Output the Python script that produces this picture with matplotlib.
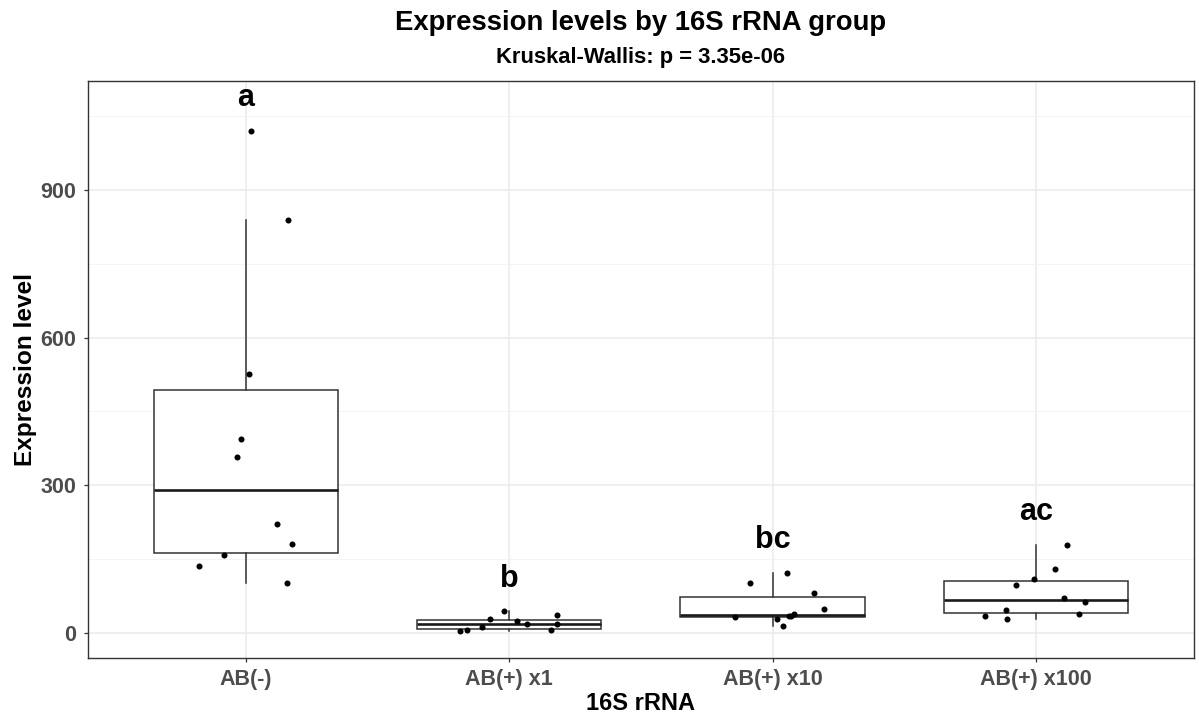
import matplotlib
matplotlib.use("Agg")
import matplotlib.pyplot as plt
import numpy as np

plt.rcParams['font.family'] = ['Liberation Sans', 'DejaVu Sans']

categories = ["AB(-)", "AB(+) x1", "AB(+) x10", "AB(+) x100"]

ab_neg = [1020, 838, 526, 393, 358, 222, 180, 157, 136, 101]
ab_x1 = [2.7, 6.1, 10.8, 27, 44, 23.7, 16.9, 5.4, 36.5, 16.9]
ab_x10 = [122, 102, 80.4, 48, 32.4, 38.5, 33.8, 27, 12.8, 34]
ab_x100 = [179, 129.7, 108.8, 96.6, 71.6, 61.5, 46, 34.5, 37.8, 27]

# horizontal jitter (category units)
jit_neg = [0.020, 0.158, 0.013, -0.018, -0.036, 0.117, 0.174, -0.083, -0.180, 0.154]
jit_x1 = [-0.186, -0.159, -0.102, -0.072, -0.020, 0.028, 0.067, 0.159, 0.182, 0.182]
jit_x10 = [0.054, -0.085, 0.156, 0.195, -0.142, 0.080, 0.062, 0.015, 0.038, 0.070]
jit_x100 = [0.119, 0.073, -0.009, -0.075, 0.105, 0.185, -0.114, -0.192, 0.163, -0.109]

letters = ["a", "b", "bc", "ac"]
title = "Expression levels by 16S rRNA group"
subtitle = "Kruskal-Wallis: p = 3.35e-06"
yticks = [0, 300, 600, 900]

groups = [ab_neg, ab_x1, ab_x10, ab_x100]
jitters = [jit_neg, jit_x1, jit_x10, jit_x100]

fig = plt.figure(figsize=(11.99, 7.19), dpi=100)
ax = fig.add_axes([0.0734, 0.0848, 0.9224, 0.8030])

pos = np.arange(1, len(categories) + 1)
line_col = "#333333"
ax.boxplot(groups, positions=pos, widths=0.7, whis=1.5, showfliers=False,
           patch_artist=True,
           boxprops=dict(facecolor="white", edgecolor=line_col, linewidth=1.1),
           medianprops=dict(color="#1a1a1a", linewidth=1.9),
           whiskerprops=dict(color=line_col, linewidth=1.1),
           capprops=dict(linewidth=0), zorder=2)

for p, g, j in zip(pos, groups, jitters):
    ax.scatter(p + np.array(j), g, s=19, color="black", zorder=3, linewidths=0)

for p, g, lab in zip(pos, groups, letters):
    ax.text(p, max(g) + 66, lab, ha="center", va="center", fontsize=22,
            fontweight="bold", color="black", zorder=4)

ax.set_xlim(0.4, 4.6)
ax.set_ylim(-51.4, 1122)
ax.set_xticks(pos)
ax.set_xticklabels(categories)
ax.set_yticks(yticks)
ax.set_yticks([150, 450, 750, 1050], minor=True)
ax.grid(True, which="major", color="#EBEBEB", linewidth=1.1, zorder=0)
ax.grid(True, which="minor", axis="y", color="#F2F2F2", linewidth=0.6, zorder=0)
ax.set_axisbelow(True)

for s in ax.spines.values():
    s.set_color(line_col)
    s.set_linewidth(1.0)

ax.tick_params(axis="both", which="major", length=3.2, width=0.9, color=line_col,
               labelsize=15.5, labelcolor="#4D4D4D")
ax.tick_params(axis="x", which="major", pad=5)
ax.tick_params(axis="y", which="major", pad=5)
ax.tick_params(axis="both", which="minor", length=0)
for lab in ax.get_xticklabels() + ax.get_yticklabels():
    lab.set_fontweight("bold")

ax.set_xlabel("16S rRNA", fontsize=17, fontweight="bold", labelpad=1)
ax.set_ylabel("Expression level", fontsize=17.6, fontweight="bold", labelpad=3)

cx = 0.0734 + 0.9224 / 2
fig.text(cx, 1 - 23 / 719, title, ha="center", va="center", fontsize=19.8,
         fontweight="bold")
fig.text(cx, 1 - 57 / 719, subtitle, ha="center", va="center", fontsize=15.8,
         fontweight="bold")

fig.savefig("out.png", dpi=100, facecolor="white")
